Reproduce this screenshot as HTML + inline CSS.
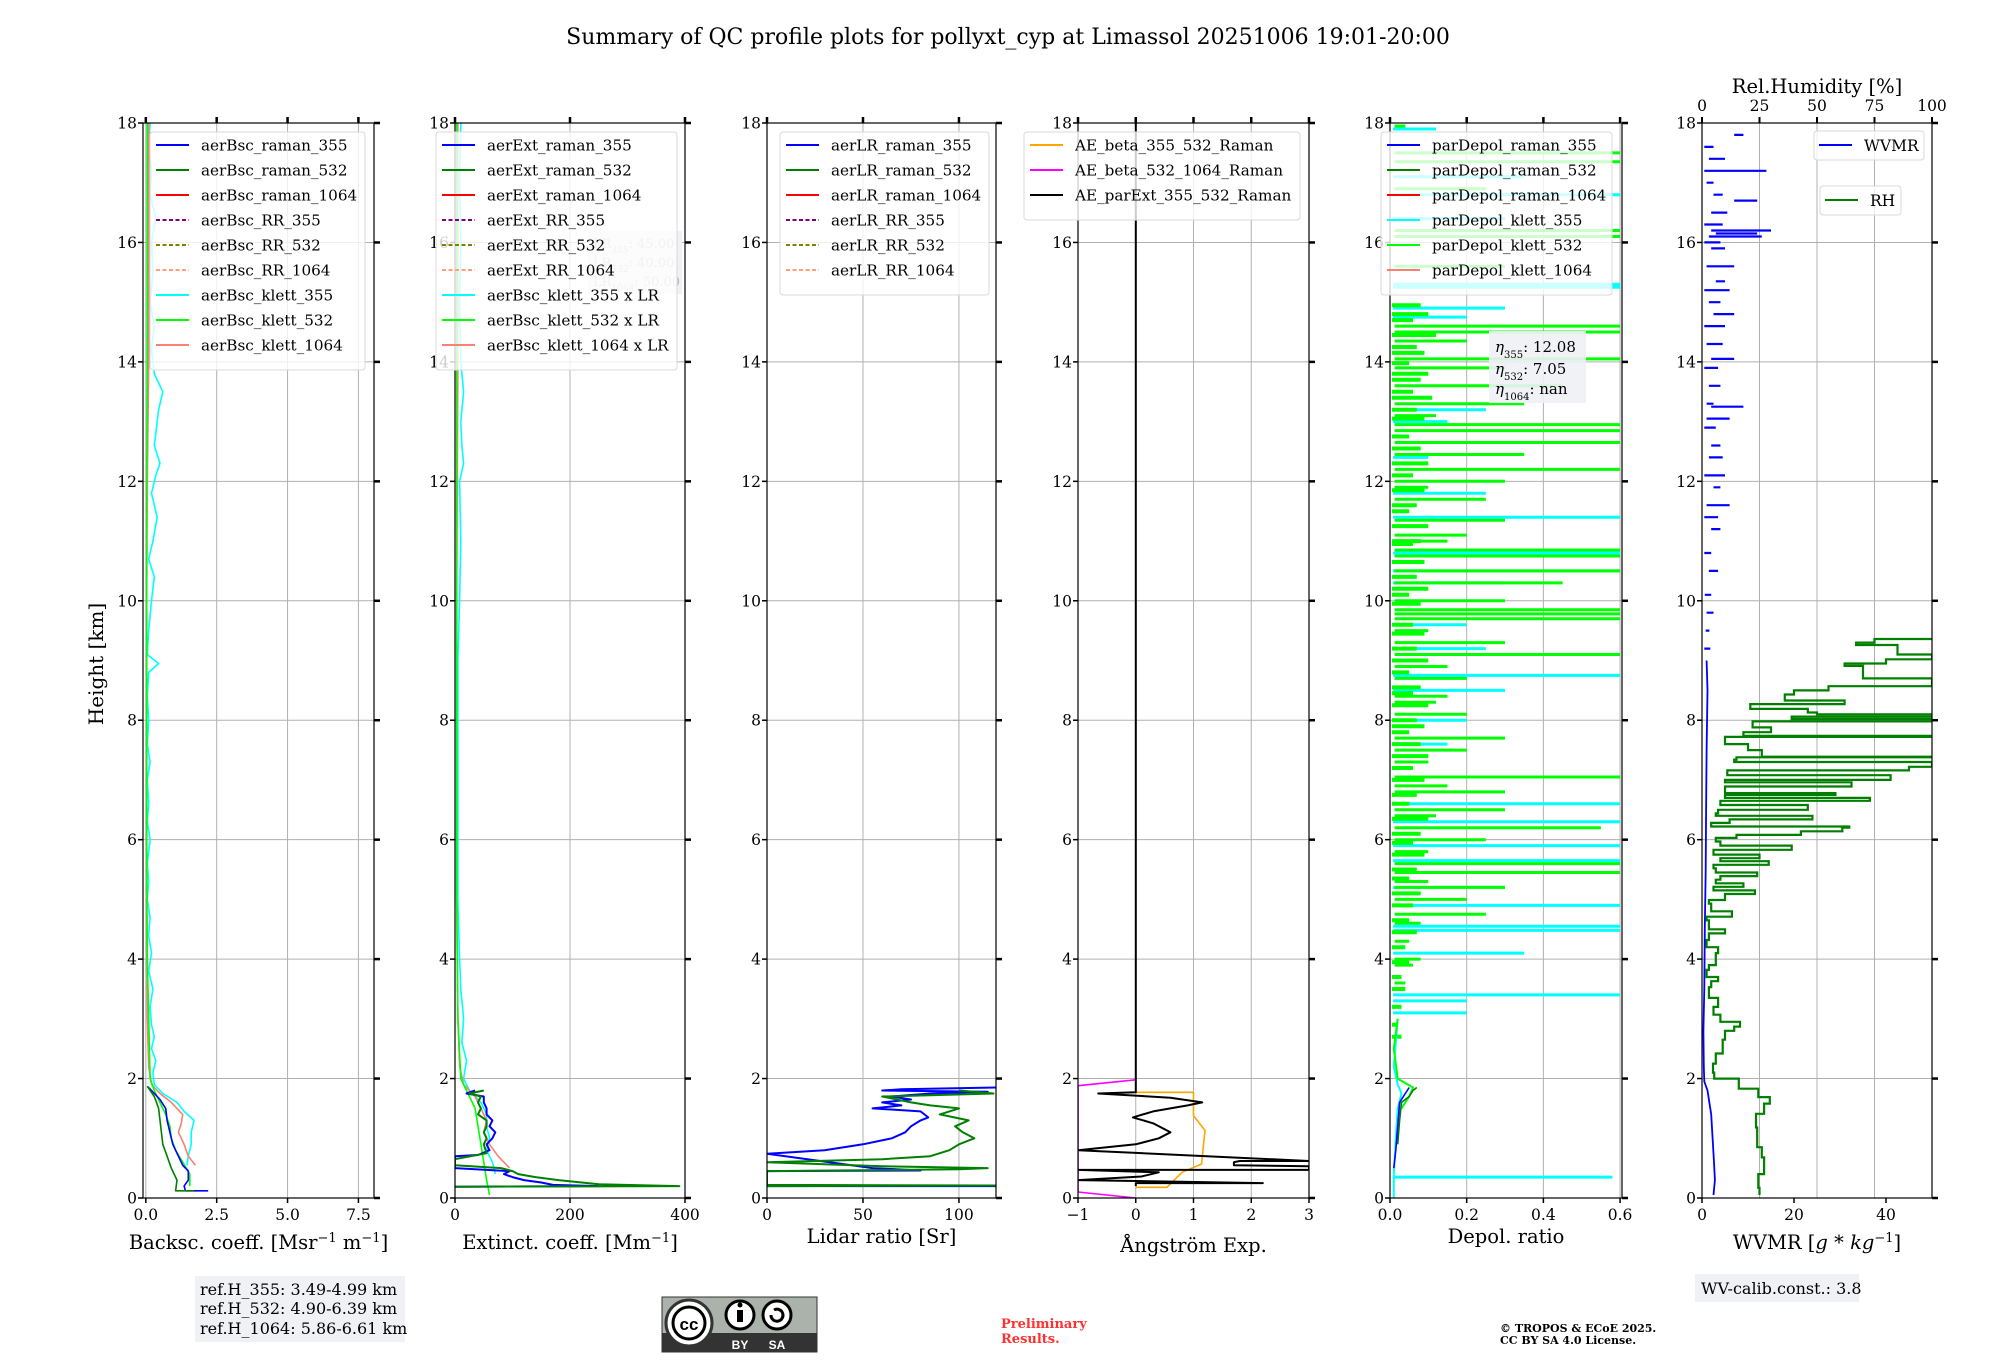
<!DOCTYPE html>
<html><head><meta charset="utf-8"><style>
html,body{margin:0;padding:0;background:#fff;}
svg{display:block;font-family:"DejaVu Serif","Liberation Serif",serif;}
</style></head><body>
<svg id="fig" width="2000" height="1360" viewBox="0 0 2000 1360" xmlns="http://www.w3.org/2000/svg">
<text x="1008" y="44" font-size="22" text-anchor="middle">Summary of QC profile plots for pollyxt_cyp at Limassol 20251006 19:01-20:00</text>
<text transform="translate(103,664) rotate(-90)" font-size="20" text-anchor="middle">Height [km]</text>
<g id="plots"></g>
<g>
<rect x="195" y="1276" width="210" height="66" fill="#f0f1f5"/>
<text x="200" y="1295" font-size="16">ref.H_355: 3.49-4.99 km</text>
<text x="200" y="1314" font-size="16">ref.H_532: 4.90-6.39 km</text>
<text x="200" y="1334" font-size="16">ref.H_1064: 5.86-6.61 km</text>
</g>
<g>
<rect x="662" y="1297" width="155" height="55" fill="#aab2ab" stroke="#333" stroke-width="1"/>
<rect x="662" y="1333" width="155" height="19" fill="#333"/>
<circle cx="689" cy="1323" r="23" fill="#fff" stroke="#333" stroke-width="3"/>
<circle cx="689" cy="1323" r="16" fill="#fff" stroke="#000" stroke-width="3"/>
<text x="689" y="1330" font-family="Liberation Sans" font-weight="bold" font-size="17" text-anchor="middle">cc</text>
<circle cx="740" cy="1315" r="14" fill="#fff" stroke="#000" stroke-width="3"/>
<rect x="737" y="1310" width="6" height="12" fill="#000"/><circle cx="740" cy="1305" r="2.5" fill="#000"/>
<circle cx="777" cy="1315" r="14" fill="#fff" stroke="#000" stroke-width="3"/>
<path d="M771 1315 a6 6 0 1 0 3 -5" fill="none" stroke="#000" stroke-width="3"/>
<text x="740" y="1349" font-family="Liberation Sans" font-weight="bold" font-size="12" fill="#fff" text-anchor="middle">BY</text>
<text x="777" y="1349" font-family="Liberation Sans" font-weight="bold" font-size="12" fill="#fff" text-anchor="middle">SA</text>
</g>
<text x="1001" y="1328" font-size="13" font-weight="bold" fill="#ff3030">Preliminary</text>
<text x="1001" y="1343" font-size="13" font-weight="bold" fill="#ff3030">Results.</text>
<text x="1500" y="1332" font-size="11" font-weight="bold">© TROPOS &amp; ECoE 2025.</text>
<text x="1500" y="1344" font-size="11" font-weight="bold">CC BY SA 4.0 License.</text>
<g>
<rect x="1695" y="1274" width="164" height="28" fill="#f0f1f5"/>
<text x="1701" y="1294" font-size="16">WV-calib.const.: 3.8</text>
</g>
</svg>
<script>
// ---- data: backscatter ----
const bsc355H=[0.12,0.12,0.2,0.3,0.45,0.55,0.7,0.9,1.1,1.3,1.5,1.65,1.8,1.87];
const bsc355V=[2.2,1.4,1.35,1.5,1.5,1.3,1.15,0.95,0.85,0.75,0.7,0.5,0.2,0.05];
const bsc532H=[0.12,0.12,0.3,0.5,0.7,0.9,1.1,1.3,1.5,1.7,1.87];
const bsc532V=[1.7,1.05,1.1,0.9,0.75,0.6,0.55,0.5,0.45,0.3,0.05];
const bk355H=[0.55,0.7,0.9,1.1,1.3,1.45,1.6,1.75,1.9,2.1,2.3,2.5,2.7,2.9,3.2,3.5,3.8,4.1,4.4,4.7,5.0,5.3,5.6,6.0,6.3,6.6,7.0,7.3,7.6,8.0,8.4,8.8,8.95,9.1,9.5,10.0,10.4,10.7,11.0,11.4,11.8,12.1,12.3,12.6,13.0,13.2,13.5,13.8,14.2,14.6,15.0,15.5,16.0,16.4,16.8,17.2,17.6,18.0];
const bk355V=[1.45,1.5,1.6,1.6,1.7,1.35,1.1,0.6,0.3,0.25,0.35,0.2,0.3,0.2,0.15,0.25,0.1,0.2,0.1,0.15,0.05,0.1,0.05,0.15,0.05,0.1,0.05,0.15,0.05,0.1,0.05,0.1,0.45,0.05,0.1,0.2,0.3,0.1,0.25,0.4,0.2,0.35,0.5,0.3,0.4,0.45,0.6,0.3,0.2,0.3,0.15,0.25,0.2,0.35,0.15,0.2,0.1,0.15];
const bk532H=[0.2,0.4,0.6,0.8,1.0,1.2,1.4,1.6,1.8,2.0,3,4,6,8,10,12,14,16,18];
const bk532V=[1.55,1.55,1.3,1.05,0.9,0.85,0.7,0.5,0.3,0.15,0.1,0.05,0.03,0.03,0.03,0.03,0.05,0.05,0.05];
const bk1064H=[0.55,0.7,0.9,1.1,1.25,1.4,1.6,1.75,1.9,2.2,3,5,8,10,12,14,16,18];
const bk1064V=[1.75,1.5,1.35,1.15,1.25,1.3,0.9,0.5,0.2,0.1,0.05,0.02,0.02,0.03,0.05,0.1,0.1,0.1];
// ---- data: extinction ----
const ext355H=[0.19,0.2,0.22,0.26,0.3,0.35,0.4,0.45,0.5,0.7,0.72,0.8,0.9,1.0,1.1,1.2,1.3,1.4,1.5,1.6,1.7,1.75,1.8];
const ext355V=[0,250,170,150,120,100,85,95,0,0,40,60,55,65,70,60,65,55,55,50,50,20,35];
const ext532H=[0.19,0.2,0.23,0.3,0.35,0.4,0.45,0.5,0.55,0.6,0.65,0.75,0.9,1.0,1.1,1.2,1.3,1.4,1.5,1.6,1.7,1.75,1.8];
const ext532V=[0,390,250,180,140,110,100,80,0,0,0,55,50,55,50,55,55,40,45,40,45,25,50];
const ek355H=[0.4,0.6,0.8,1.0,1.2,1.4,1.6,1.8,2.0,2.3,2.6,3.0,3.5,4,5,6,7,8,9,10,11,12,12.3,12.6,13,13.5,14,15,16,17,18];
const ek355V=[70,65,55,60,55,55,45,25,15,20,12,15,10,8,5,5,5,5,5,8,10,8,15,12,10,15,10,8,10,8,10];
const ek532H=[0.05,0.3,0.6,0.9,1.2,1.5,1.8,2.0,3,5,10,18];
const ek532V=[60,55,50,45,40,35,20,10,5,3,3,3];
const ek1064H=[0.5,0.7,0.9,1.1,1.3,1.5,1.7,1.9,2.2,3,5,10,14,18];
const ek1064V=[95,75,60,50,55,45,35,15,8,5,3,3,5,5];
// ---- data: lidar ratio ----
const lr355H=[0.2,0.2,0.21,0.45,0.46,0.5,0.74,0.8,0.9,1.0,1.1,1.2,1.3,1.35,1.45,1.5,1.55,1.6,1.65,1.7,1.75,1.78,1.8,1.82,1.85];
const lr355V=[0,120,0,0,80,55,0,30,50,65,72,75,80,84,80,55,70,60,75,65,85,115,60,70,120];
const lr532H=[0.2,0.21,0.22,0.45,0.48,0.5,0.53,0.6,0.65,0.7,0.8,0.9,1.0,1.1,1.2,1.3,1.4,1.5,1.55,1.6,1.7,1.75,1.8];
const lr532V=[0,120,0,0,100,115,60,0,60,85,95,100,108,102,98,105,90,100,85,75,60,118,100];
// ---- data: angstrom ----
const aeBetaH=[0.18,0.18,0.43,0.57,1.13,1.38,1.77,1.77];
const aeBetaV=[0,0.54,0.8,1.14,1.2,1.0,1.0,0];
const aeB2H=[0,0.1,1.88,1.98];
const aeB2V=[0,-1,-1,0];
const aeExtH=[0.2,0.25,0.25,0.3,0.36,0.43,0.47,0.47,0.53,0.55,0.6,0.62,0.62,0.8,0.9,1.0,1.1,1.25,1.35,1.45,1.55,1.6,1.68,1.75,1.77,18];
const aeExtV=[0,0,2.2,-1,0.1,0.4,-1,3,3,1.7,1.7,1.8,3,-1,0,0.4,0.6,0.3,-0.05,0.3,0.9,1.15,0.6,-0.65,0,0];
// ---- data: depol ----
const dp355H=[0.5,0.8,1.2,1.6,1.75,1.85];
const dp355V=[0.01,0.015,0.02,0.025,0.04,0.05];
const dp532H=[0.9,1.3,1.6,1.7,1.8,1.85];
const dp532V=[0.02,0.025,0.03,0.05,0.06,0.07];
const dk355H=[0,0.3,0.4,1,1.5,1.75,1.9,2.2,2.6,3.0];
const dk355V=[0.01,0.01,0.01,0.015,0.02,0.03,0.02,0.01,0.015,0.02];
const dk532H=[1.5,1.7,1.85,2.0,2.5,3.0];
const dk532V=[0.03,0.05,0.06,0.02,0.01,0.02];
const spkLimeH=[17.95,17.5,17.35,16.9,16.2,16.1,15.6,14.6,14.5,14.35,14.05,13.9,13.6,13.3,12.95,12.85,12.65,12.45,12.2,12.0,11.7,11.35,11.1,10.85,10.75,10.5,10.3,10.0,9.85,9.78,9.7,9.3,9.1,8.9,8.7,8.4,8.1,7.7,7.5,7.05,6.8,6.5,6.2,6.0,5.6,5.45,5.2,5.0,4.75,4.3,4.0,3.6,13.1,11.9,11.0,9.5,8.3,7.3,6.9,6.4,5.8,5.3,4.6,3.9];
const spkLimeV=[0.04,0.6,0.6,0.25,0.6,0.6,0.3,0.6,0.6,0.2,0.6,0.3,0.45,0.35,0.6,0.6,0.6,0.35,0.6,0.3,0.25,0.3,0.2,0.6,0.6,0.6,0.45,0.3,0.6,0.6,0.6,0.3,0.6,0.15,0.2,0.15,0.2,0.3,0.2,0.6,0.3,0.3,0.55,0.25,0.6,0.6,0.3,0.2,0.25,0.05,0.08,0.04,0.12,0.1,0.15,0.1,0.12,0.1,0.15,0.12,0.1,0.1,0.08,0.06];
const spkCyanH=[17.9,17.1,16.8,16.4,15.3,15.25,14.9,14.75,13.2,13.0,12.4,11.8,11.4,10.8,10.5,10.3,9.6,9.2,8.75,8.5,8.0,7.6,6.6,6.3,5.9,5.65,5.2,4.9,4.55,4.48,4.1,3.4,3.3,3.1,0.35];
const spkCyanV=[0.12,0.35,0.6,0.3,0.6,0.6,0.3,0.2,0.25,0.15,0.1,0.25,0.6,0.6,0.6,0.3,0.2,0.25,0.6,0.3,0.2,0.15,0.6,0.6,0.6,0.6,0.3,0.6,0.6,0.6,0.35,0.6,0.2,0.2,0.58];
const dpNoiseH=[14.95,14.8,14.7,14.45,14.25,14.15,13.98,13.8,13.7,13.5,13.4,13.2,13.05,12.75,12.55,12.3,12.1,11.85,11.6,11.5,11.25,11.0,10.95,10.65,10.4,10.2,10.1,9.95,9.6,9.45,9.2,9.0,8.8,8.55,8.45,8.25,8.0,7.9,7.8,7.6,7.4,7.2,7.0,6.75,6.6,6.35,6.1,5.95,5.75,5.5,5.35,5.1,4.9,4.65,4.45,4.2,3.95,3.7,3.5,3.2,2.9,2.7];
const dpNoiseV=[0.08,0.1,0.06,0.12,0.07,0.09,0.05,0.1,0.08,0.06,0.11,0.07,0.09,0.05,0.08,0.1,0.06,0.09,0.07,0.05,0.1,0.08,0.06,0.09,0.07,0.1,0.05,0.08,0.06,0.09,0.07,0.1,0.05,0.08,0.06,0.1,0.07,0.09,0.05,0.08,0.1,0.06,0.09,0.07,0.05,0.1,0.08,0.06,0.09,0.07,0.05,0.08,0.06,0.05,0.07,0.04,0.05,0.03,0.04,0.03,0.02,0.03];
// ---- data: WVMR / RH ----
const wvH=[0.05,0.3,0.6,1.0,1.4,1.8,1.95,2.2,2.8,3.5,4.5,5.5,6.5,7.5,8.5,9.0];
const wvV=[2.5,2.8,2.6,2.3,2.0,1.2,0.5,0.4,0.3,0.5,0.6,0.8,0.9,1.0,1.2,1.0];
const wvSegH=[9.2,9.5,9.8,10.1,10.5,10.8,11.2,11.4,11.6,11.9,12.1,12.4,12.6,12.9,13.05,13.25,13.3,13.6,13.9,14.05,14.3,14.6,14.8,15.0,15.2,15.35,15.6,15.9,16.0,16.1,16.15,16.2,16.3,16.5,16.7,16.8,17.0,17.2,17.4,17.6,17.8];
const wvSegA=[0.5,0.8,1.0,0.6,1.5,0.5,2.0,0.5,1.0,2.5,0.5,1.5,2.0,0.5,1.0,2.0,1.0,1.5,0.5,2.0,1.0,0.5,2.5,1.5,0.5,3.0,1.0,2.0,0.5,1.5,3.0,2.0,0.5,2.0,7.0,2.5,1.0,0.5,1.5,0.5,7.0];
const wvSegB=[1.8,1.6,2.5,2.0,3.5,2.0,4.0,3.5,6.0,4.0,5.0,4.5,4.0,3.0,6.0,9.0,2.5,4.0,3.5,7.0,4.5,5.0,7.0,4.0,6.0,5.0,7.0,5.0,4.0,13.0,12.0,15.0,4.5,5.5,12.0,4.5,2.5,14.0,5.0,2.5,9.0];
const rhH=[0.05,0.17,0.4,0.68,0.85,1.18,1.41,1.58,1.69,1.83,2.0,2.1,2.25,2.42,2.65,2.8,2.87,2.95,3.07,3.2,3.35,3.53,3.63,3.7,3.82,3.9,4.1,4.2,4.32,4.43,4.5,4.65,4.71,4.8,4.93,4.99,5.09,5.15,5.21,5.27,5.33,5.39,5.45,5.52,5.58,5.64,5.69,5.75,5.83,5.9,5.97,6.03,6.08,6.14,6.2,6.22,6.28,6.34,6.4,6.44,6.5,6.58,6.65,6.7,6.75,6.78,6.89,6.96,7.0,7.08,7.16,7.22,7.3,7.34,7.38,7.39,7.5,7.6,7.72,7.74,7.8,7.88,7.98,8.02,8.06,8.1,8.13,8.19,8.27,8.33,8.43,8.5,8.57,8.7,8.91,8.95,9.02,9.1,9.26,9.3,9.36];
const rhV=[25,24.5,27,26,24,23.5,27,29.5,24.5,16,5.3,4.8,6,9,10,14,16.5,8,5,7,3,4,7,2,3,6,7,2,3,10,3,2,13,4,3,10,23,5,18,6,8,24,6,5,29,8,25,5,39,8,6,15,43,61,64,4,12,48,6,7,46,8,73,10,58,10,65,10,82,11,90,100,14,15,100,26,20,10,100,18,30,22,100,39,100,50,46,21,62,36,40,55,100,70,62,80,100,85,67,75,100];

const SVGNS="http://www.w3.org/2000/svg";
const root=document.getElementById('plots');
const YB=1198, YT=123;
function Y(h){return YB-(h/18)*(YB-YT);}
function mk(tag,attrs,parent){const e=document.createElementNS(SVGNS,tag);for(const k in attrs)e.setAttribute(k,attrs[k]);(parent||root).appendChild(e);return e;}
function ok(v){return typeof v==='number'&&isFinite(v);}

const panels=[
 {name:'backscatter',x0:143,x1:374,min:-0.1,max:8.05,ticks:[0,2.5,5,7.5],tl:['0.0','2.5','5.0','7.5'],label:'Backsc. coeff. [Msr<tspan baseline-shift="super" font-size="13">−1</tspan> m<tspan baseline-shift="super" font-size="13">−1</tspan>]',ly:1249},
 {name:'extinction',x0:455,x1:685,min:0,max:400,ticks:[0,200,400],tl:['0','200','400'],label:'Extinct. coeff. [Mm<tspan baseline-shift="super" font-size="13">−1</tspan>]',ly:1249},
 {name:'lidar-ratio',x0:767,x1:996,min:0,max:119.3,ticks:[0,50,100],tl:['0','50','100'],label:'Lidar ratio [Sr]',ly:1243},
 {name:'angstrom',x0:1078,x1:1309,min:-1,max:3,ticks:[-1,0,1,2,3],tl:['−1','0','1','2','3'],label:'Ångström Exp.',ly:1252},
 {name:'depol',x0:1390,x1:1622,min:0,max:0.605,ticks:[0,0.2,0.4,0.6],tl:['0.0','0.2','0.4','0.6'],label:'Depol. ratio',ly:1243},
 {name:'wvmr',x0:1702,x1:1932,min:0,max:50,ticks:[0,20,40],tl:['0','20','40'],label:'WVMR [<tspan font-style="italic">g</tspan> * <tspan font-style="italic">kg</tspan><tspan baseline-shift="super" font-size="13">−1</tspan>]',ly:1249}
];
const yTicks=[0,2,4,6,8,10,12,14,16,18];

function xs(p,v){return p.x0+(v-p.min)/(p.max-p.min)*(p.x1-p.x0);}
function poly(p,g,H,V,color,w,name){
  let d='';const n=Math.min(H.length,V.length);
  for(let i=0;i<n;i++){if(!ok(H[i])||!ok(V[i]))continue;d+=(d?'L':'M')+xs(p,V[i]).toFixed(1)+' '+Y(H[i]).toFixed(1);}
  if(!d)return;
  const e=mk('path',{d:d,fill:'none',stroke:color,'stroke-width':w,'stroke-linejoin':'round'},g);
  
  
}
function step(p,g,H,V,color,w,name){
  const n=Math.min(H.length,V.length);if(n<1)return;
  let d='M'+xs(p,V[0]).toFixed(1)+' '+Y(H[0]).toFixed(1);
  for(let i=1;i<n;i++){if(!ok(H[i])||!ok(V[i])||!ok(V[i-1]))continue;d+='L'+xs(p,V[i-1]).toFixed(1)+' '+Y(H[i]).toFixed(1)+'L'+xs(p,V[i]).toFixed(1)+' '+Y(H[i]).toFixed(1);}
  const e=mk('path',{d:d,fill:'none',stroke:color,'stroke-width':w},g);
  
  
}
function segs(p,g,H,A,B,color,w,name){
  let d='';const n=Math.min(H.length,A.length,B.length);
  for(let i=0;i<n;i++){if(!ok(H[i])||!ok(A[i])||!ok(B[i]))continue;const y=Y(H[i]).toFixed(1);d+='M'+xs(p,A[i]).toFixed(1)+' '+y+'L'+xs(p,B[i]).toFixed(1)+' '+y;}
  if(!d)return;
  const e=mk('path',{d:d,fill:'none',stroke:color,'stroke-width':w},g);
  
  
}
function spikes(p,g,H,V,base,color,w,name){
  let d='';const n=Math.min(H.length,V.length);
  for(let i=0;i<n;i++){if(!ok(H[i])||!ok(V[i]))continue;const y=Y(H[i]).toFixed(1);d+='M'+xs(p,base).toFixed(1)+' '+y+'L'+xs(p,V[i]).toFixed(1)+' '+y;}
  if(!d)return;
  const e=mk('path',{d:d,fill:'none',stroke:color,'stroke-width':w},g);
  
  
}
function legend(g,x,y,w,entries,name){
  const h=entries.length*25+13;
  const box=mk('rect',{x:x,y:y,width:w,height:h,rx:3,fill:'rgba(255,255,255,0.8)',stroke:'#d8d8d8','stroke-width':1},g);
  
  
  entries.forEach((en,i)=>{
    const cy=y+13+i*25;
    const ln=mk('line',{x1:x+6,x2:x+39,y1:cy,y2:cy,stroke:en[1],'stroke-width':2,'stroke-dasharray':en[2]?'4,2.5':'none'},g);
    
    
    const t=mk('text',{x:x+51,y:cy+5.5,'font-size':15.2},g);
    t.textContent=en[0];
    
    
  });
}

function drawSeries(pi,p,d){
  if(pi===0){
    poly(p,d,bk355H,bk355V,'#00ffff',1.6,'aerBsc-klett-355');
    poly(p,d,bk1064H,bk1064V,'#fa8072',1.6,'aerBsc-klett-1064');
    poly(p,d,bk532H,bk532V,'#00ff00',1.6,'aerBsc-klett-532');
    poly(p,d,bsc355H,bsc355V,'#0000ff',1.6,'aerBsc-raman-355');
    poly(p,d,bsc532H,bsc532V,'#008000',1.6,'aerBsc-raman-532');
  } else if(pi===1){
    poly(p,d,ek355H,ek355V,'#00ffff',1.6,'aerBsc-klett-355-x-lr');
    poly(p,d,ek1064H,ek1064V,'#fa8072',1.6,'aerBsc-klett-1064-x-lr');
    poly(p,d,ek532H,ek532V,'#00ff00',1.6,'aerBsc-klett-532-x-lr');
    poly(p,d,ext355H,ext355V,'#0000ff',2,'aerExt-raman-355');
    poly(p,d,ext532H,ext532V,'#008000',2,'aerExt-raman-532');
  } else if(pi===2){
    poly(p,d,lr355H,lr355V,'#0000ff',2,'aerLR-raman-355');
    poly(p,d,lr532H,lr532V,'#008000',2,'aerLR-raman-532');
  } else if(pi===3){
    poly(p,d,aeBetaH,aeBetaV,'#ffa500',1.6,'ae-beta-355-532');
    poly(p,d,aeB2H,aeB2V,'#ff00ff',1.6,'ae-beta-532-1064');
    poly(p,d,aeExtH,aeExtV,'#000000',2,'ae-parext-355-532');
  } else if(pi===4){
    spikes(p,d,spkCyanH,spkCyanV,0.008,'#00ffff',3,'parDepol-klett-355');
    spikes(p,d,spkLimeH,spkLimeV,0.012,'#00ff00',3,'parDepol-klett-532');
    spikes(p,d,dpNoiseH,dpNoiseV,0.005,'#00ff00',4,'parDepol-klett-532-noise');
    poly(p,d,dk355H,dk355V,'#00ffff',2,'parDepol-klett-355-low');
    poly(p,d,dk532H,dk532V,'#00ff00',2,'parDepol-klett-532-low');
    poly(p,d,dp532H,dp532V,'#008000',1.6,'parDepol-raman-532');
    poly(p,d,dp355H,dp355V,'#0000ff',1.6,'parDepol-raman-355');
  } else {
    poly(p,d,wvH,wvV,'#0000ff',1.8,'wvmr-line');
    segs(p,d,wvSegH,wvSegA,wvSegB,'#0000ff',2.2,'wvmr-upper-segments');
    const rp={x0:p.x0,x1:p.x1,min:0,max:100};
    step(rp,d,rhH,rhV,'#008000',2.2,'rh-line');
  }
}

panels.forEach((p,pi)=>{
  const g=mk('g',{});
  
  
  const clip=mk('clipPath',{id:'c'+pi},g);
  mk('rect',{x:p.x0,y:YT,width:p.x1-p.x0,height:YB-YT},clip);
  const grid=mk('g',{stroke:'#b0b0b0','stroke-width':1},g);
  
  
  yTicks.forEach(t=>mk('line',{x1:p.x0,x2:p.x1,y1:Y(t),y2:Y(t)},grid));
  const gx = pi===5 ? [0,25,50,75,100].map(v=>p.x0+v/100*(p.x1-p.x0)) : p.ticks.map(v=>xs(p,v));
  gx.forEach(x=>mk('line',{x1:x,x2:x,y1:YT,y2:YB},grid));
  const d=mk('g',{'clip-path':'url(#c'+pi+')'},g);
  
  
  try{drawSeries(pi,p,d);}catch(e){}
  const fr=mk('rect',{x:p.x0,y:YT,width:p.x1-p.x0,height:YB-YT,fill:'none',stroke:'#000','stroke-width':1.2},g);
  
  
  yTicks.forEach(t=>{
    const y=Y(t);
    mk('line',{x1:p.x0-5,x2:p.x0,y1:y,y2:y,stroke:'#000','stroke-width':1.5},g);
    mk('line',{x1:p.x1,x2:p.x1+6,y1:y,y2:y,stroke:'#000','stroke-width':2.5},g);
    const tl=mk('text',{x:p.x0-6,y:y+5.5,'font-size':15.5,'text-anchor':'end'},g);
    tl.textContent=String(t);
    
    
  });
  p.ticks.forEach((v,i)=>{
    const x=xs(p,v);
    mk('line',{x1:x,x2:x,y1:YB,y2:YB+5,stroke:'#000','stroke-width':1.5},g);
    if(pi<5) mk('line',{x1:x,x2:x,y1:YT-6,y2:YT,stroke:'#000','stroke-width':2.5},g);
    const tl=mk('text',{x:x,y:1220,'font-size':15.5,'text-anchor':'middle'},g);
    tl.textContent=p.tl[i];
    
    
  });
  const xl=mk('text',{x:(p.x0+p.x1)/2,y:p.ly,'font-size':19.5,'text-anchor':'middle'},g);
  xl.innerHTML=p.label;
  
  
  if(pi===5){
    [0,25,50,75,100].forEach(v=>{
      const x=p.x0+v/100*(p.x1-p.x0);
      mk('line',{x1:x,x2:x,y1:YT-6,y2:YT,stroke:'#000','stroke-width':2},g);
      const t=mk('text',{x:x,y:111,'font-size':15.5,'text-anchor':'middle'},g);
      t.textContent=String(v);
      
      
    });
    const rt=mk('text',{x:1817,y:93,'font-size':19.5,'text-anchor':'middle'},g);
    rt.textContent='Rel.Humidity [%]';
    
    
  }
});

try{
const lrg=mk('g',{});


mk('rect',{x:588,y:231,width:94,height:63,fill:'#f0f1f5'},lrg);
[['LR',"355",': 45.00',248],['LR','532',': 40.00',267],['LR','1064',': 50.00',286]].forEach(a=>{
  const t=mk('text',{x:593,y:a[3],'font-size':13,fill:'#b8b8b8'},lrg);
  t.innerHTML=a[0]+'<tspan font-size="9" baseline-shift="sub">'+a[1]+'</tspan>'+a[2];
});
}catch(e){}

try{
legend(root,150,132,215,[['aerBsc_raman_355','#0000ff'],['aerBsc_raman_532','#008000'],['aerBsc_raman_1064','#ff0000'],['aerBsc_RR_355','#800080',1],['aerBsc_RR_532','#808000',1],['aerBsc_RR_1064','#ffa07a',1],['aerBsc_klett_355','#00ffff'],['aerBsc_klett_532','#00ff00'],['aerBsc_klett_1064','#fa8072']],'legend-backscatter');
legend(root,436,132,241,[['aerExt_raman_355','#0000ff'],['aerExt_raman_532','#008000'],['aerExt_raman_1064','#ff0000'],['aerExt_RR_355','#800080',1],['aerExt_RR_532','#808000',1],['aerExt_RR_1064','#ffa07a',1],['aerBsc_klett_355 x LR','#00ffff'],['aerBsc_klett_532 x LR','#00ff00'],['aerBsc_klett_1064 x LR','#fa8072']],'legend-extinction');
legend(root,780,132,209,[['aerLR_raman_355','#0000ff'],['aerLR_raman_532','#008000'],['aerLR_raman_1064','#ff0000'],['aerLR_RR_355','#800080',1],['aerLR_RR_532','#808000',1],['aerLR_RR_1064','#ffa07a',1]],'legend-lidar-ratio');
legend(root,1024,132,276,[['AE_beta_355_532_Raman','#ffa500'],['AE_beta_532_1064_Raman','#ff00ff'],['AE_parExt_355_532_Raman','#000000']],'legend-angstrom');
legend(root,1381,132,231,[['parDepol_raman_355','#0000ff'],['parDepol_raman_532','#008000'],['parDepol_raman_1064','#ff0000'],['parDepol_klett_355','#00ffff'],['parDepol_klett_532','#00ff00'],['parDepol_klett_1064','#fa8072']],'legend-depol');
}catch(e){}

try{
const eg=mk('g',{});


mk('rect',{x:1489,y:331,width:97,height:72,fill:'rgba(240,241,245,0.9)'},eg);
[['355',': 12.08',352],['532',': 7.05',374],['1064',': nan',394]].forEach(a=>{
  const t=mk('text',{x:1495,y:a[2],'font-size':15},eg);
  t.innerHTML='<tspan font-style="italic">η</tspan><tspan font-size="10" baseline-shift="sub">'+a[0]+'</tspan>'+a[1];
});
}catch(e){}

function smallLegend(x,y,w,label,color,name){
  const g=mk('g',{});
  
  
  mk('rect',{x:x,y:y,width:w,height:29,rx:3,fill:'rgba(255,255,255,0.8)',stroke:'#d8d8d8','stroke-width':1},g);
  mk('line',{x1:x+5,x2:x+38,y1:y+14,y2:y+14,stroke:color,'stroke-width':2},g);
  const t=mk('text',{x:x+50,y:y+20,'font-size':15.5},g);
  t.textContent=label;
}
try{
smallLegend(1814,131,110,'WVMR','#0000ff','legend-wvmr');
smallLegend(1820,186,81,'RH','#008000','legend-rh');
}catch(e){}
</script>
</body></html>
